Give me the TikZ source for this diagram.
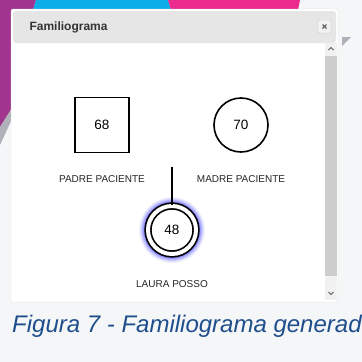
\documentclass[tikz,border=0pt]{standalone}
\usepackage{fontspec}
\setmainfont{Liberation Sans}
\usetikzlibrary{positioning}

\definecolor{fondo}{HTML}{F4F6F7}
\definecolor{morado}{HTML}{A1348F}
\definecolor{celeste}{HTML}{0BAEE9}
\definecolor{fucsia}{HTML}{EA2A8C}
\definecolor{gristri}{HTML}{B0B0B8}
\definecolor{cabecera}{HTML}{E6E6E6}
\definecolor{barra}{HTML}{CDCDCD}
\definecolor{pista}{HTML}{F1F1F1}
\definecolor{azulpie}{HTML}{1F4E8C}
\definecolor{brillo}{HTML}{7070FF}

\begin{document}
\begin{tikzpicture}[x=1pt,y=-1pt,node distance=139pt,on grid,
  hombre/.style={draw,line width=1.7pt,minimum width=54pt,minimum height=55pt,fill=white,font=\fontsize{13.5}{13.5}\selectfont},
  mujer/.style={draw,circle,line width=1.6pt,minimum size=54pt,fill=white,font=\fontsize{13.5}{13.5}\selectfont},
  paciente/.style={circle,draw,line width=1.7pt,double,double distance=4pt,minimum size=48pt,fill=white,font=\fontsize{13.5}{13.5}\selectfont},
  nombre/.style={font=\fontsize{10}{10}\selectfont,text=black!85}]
	\useasboundingbox (0,0) rectangle (362,362);
	\fill[fondo] (0,0) rectangle (362,362);
	% franjas de color del fondo
	\fill[morado] (0,0) -- (36,0) -- (30,20) -- (12,108) -- (0,127) -- cycle;
	\fill[gristri] (0,127) -- (12,108) -- (12,119) -- (0,145) -- cycle;
	\fill[celeste] (36,0) -- (168,0) -- (171,10) -- (33,10) -- cycle;
	\fill[fucsia] (168,0) -- (300,0) -- (298,10) -- (171,10) -- cycle;
	\fill[gristri] (342,37) -- (351,37) -- (342,46) -- cycle;
	
	% ventana
	\draw[white!88!black,fill=white,rounded corners=2pt] (11,9) rectangle (338,302);
	\fill[cabecera,rounded corners=3pt] (13,11) rectangle (336,43);
	\node[anchor=west,font=\fontsize{12}{12}\selectfont\bfseries,text=black!80] (titulo) at (26,27) {Familiograma};
	\draw[black!22,fill=black!5,rounded corners=1pt] (318,20) rectangle (331,33);
	\draw[black!60,line width=1.3pt] (322.5,24.5) -- (326.5,28.5) (326.5,24.5) -- (322.5,28.5);
	\fill[pista] (325,43) rectangle (337,300);
	\fill[barra] (325,56) rectangle (337,276);
	\draw[black!65,line width=0.8pt] (328.5,50) -- (331,47.5) -- (333.5,50);
	\draw[black!65,line width=0.8pt] (328.5,292) -- (331,294.5) -- (333.5,292);
	
	% familiograma
	\node[hombre] (padre) at (102,125) {68};
	\node[mujer, right=of padre] (madre) {70};
	\node[nombre, below=54pt of padre] (npadre) {PADRE PACIENTE};
	\node[nombre, below=54pt of madre] (nmadre) {MADRE PACIENTE};
	\coordinate (union) at (172,167);
	\coordinate (centro) at (172,230);
	\foreach \r/\o in {33/0.08,32/0.12,31/0.18,30/0.26,29/0.36,28/0.5}
		\fill[brillo,opacity=\o] (centro) circle (\r pt);
	\node[paciente] (hija) at (centro) {48};
	\node[nombre, below=54pt of hija] (nhija) {LAURA POSSO};
	\draw[line width=1.2pt] (union) -- (hija);
	
	\node[anchor=base west,inner sep=0pt,text=azulpie,font=\fontsize{24}{24}\selectfont\itshape] (pie) at (12,332) {Figura 7 - Familiograma generad};
\end{tikzpicture}
\end{document}
